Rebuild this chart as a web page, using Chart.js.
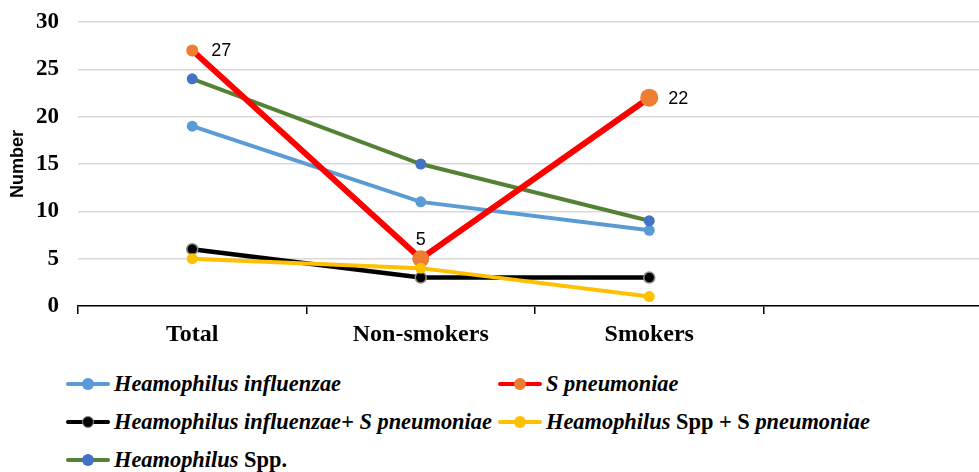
<!DOCTYPE html>
<html>
<head>
<meta charset="utf-8">
<script src="https://cdn.jsdelivr.net/npm/chart.js@4/dist/chart.umd.min.js"></script>
<style>
  html, body { margin: 0; padding: 0; background: #fff; overflow: hidden; }
  #wrap { position: relative; width: 1001px; height: 472px; }
  #chart { position: absolute; left: 0; top: 0; }
  .legend-item { position: absolute; display: flex; align-items: center; white-space: nowrap;
    font-family: "Liberation Serif", "Times New Roman", serif; font-weight: bold; font-size: 22.4px; color: #000; }
  .legend-item .sym { position: relative; width: 44px; height: 12px; margin-right: 4px; }
  .legend-item .sym .ln { position: absolute; left: 0; right: 0; top: 4px; height: 4px; border-radius: 2px; }
  .legend-item .sym .pt { position: absolute; left: 16px; top: 0; width: 12px; height: 12px; border-radius: 50%; box-sizing: border-box; }
  .legend-item i { font-style: italic; }
</style>
</head>
<body>
<div id="wrap">
  <canvas id="chart" width="1001" height="352"></canvas>
  <div id="legend"></div>
</div>
<script>
// categories (last slot is empty in the original)
const categories = ['Total', 'Non-smokers', 'Smokers', ''];

// series values
const hInfluenzae = [19, 11, 8];
const sPneumoniae = [27, 5, 22];
const hInfluenzaeSp = [6, 3, 3];
const hSppSp = [5, 4, 1];
const hSpp = [24, 15, 9];

// y axis ticks
const yMin = 0;
const yMax = 30;
const yStep = 5;

// legend label pieces: [text, italic]
const lblHInfluenzae = [['Heamophilus influenzae', true]];
const lblSPneumoniae = [['S pneumoniae', true]];
const lblHInfluenzaeSp = [['Heamophilus influenzae+ S pneumoniae', true]];
const lblHSppSp = [['Heamophilus', true], [' Spp + S ', false], ['pneumoniae', true]];
const lblHSpp = [['Heamophilus', true], [' Spp.', false]];

const serif = '"Liberation Serif", "Times New Roman", serif';

function series(parts, data, line, point, width, radius, extra) {
  return Object.assign({
    label: parts.map(p => p[0]).join(''),
    parts: parts,
    data: data,
    borderColor: line,
    backgroundColor: point,
    pointBackgroundColor: point,
    pointBorderColor: point,
    pointBorderWidth: 0,
    borderWidth: width,
    pointRadius: radius,
    pointHoverRadius: radius,
    tension: 0,
    fill: false
  }, extra || {});
}

// first dataset is drawn on top
const datasets = [
  series(lblHSppSp, hSppSp, '#FFC000', '#FFC000', 4, 5.5),
  series(lblHInfluenzaeSp, hInfluenzaeSp, '#000000', '#000000', 4.5, 5.5,
    { pointBorderColor: '#8c8c8c', pointBorderWidth: 1.5 }),
  series(lblSPneumoniae, sPneumoniae, '#FF0000', '#ED7D31', 6, [6, 8.5, 9]),
  series(lblHSpp, hSpp, '#548235', '#4472C4', 4, 5.5),
  series(lblHInfluenzae, hInfluenzae, '#5B9BD5', '#5B9BD5', 4, 5.5)
];

// value labels on the S pneumoniae series
const valueLabels = {
  id: 'valueLabels',
  afterDatasetsDraw(chart) {
    const idx = chart.data.datasets.findIndex(d => d.data === sPneumoniae);
    const meta = chart.getDatasetMeta(idx);
    const ctx = chart.ctx;
    ctx.save();
    ctx.font = '18px "Liberation Sans", Arial, sans-serif';
    ctx.fillStyle = '#000';
    meta.data.forEach((pt, i) => {
      const v = sPneumoniae[i];
      ctx.textBaseline = 'middle';
      if (i === 1) {
        ctx.textAlign = 'center';
        ctx.fillText(v, pt.x, pt.y - 19);
      } else {
        ctx.textAlign = 'left';
        ctx.fillText(v, pt.x + 19, pt.y + 1);
      }
    });
    ctx.restore();
  }
};

const chart = new Chart(document.getElementById('chart'), {
  type: 'line',
  data: { labels: categories, datasets: datasets },
  options: {
    responsive: false,
    animation: false,
    events: [],
    layout: { padding: { top: 22, left: 0, right: 0, bottom: 0 } },
    plugins: { legend: { display: false }, tooltip: { enabled: false } },
    scales: {
      x: {
        offset: true,
        grid: { offset: true, drawOnChartArea: false, drawTicks: true, tickLength: 8, color: '#000', lineWidth: 1.5 },
        border: { display: true, color: '#000', width: 1.5 },
        ticks: { color: '#000', padding: 6, font: { family: serif, size: 24, weight: 'bold' }, maxRotation: 0 },
        afterFit(scale) { scale.height = 46; }
      },
      y: {
        min: yMin,
        max: yMax,
        ticks: { stepSize: yStep, color: '#000', padding: 19, font: { family: serif, size: 23, weight: 'bold' } },
        grid: { color: '#d9d9d9', lineWidth: 1.5, drawTicks: false },
        border: { display: false },
        title: {
          display: true,
          text: 'Number',
          color: '#000',
          padding: { top: 7, bottom: 0 },
          font: { family: '"Liberation Sans", Arial, sans-serif', size: 18, weight: 'bold' }
        },
        afterFit(scale) {
          scale.width = 78;
          scale.paddingTop = 0;
          scale.paddingBottom = 0;
        }
      }
    }
  },
  plugins: [valueLabels]
});

// HTML legend (mixed italic / upright text)
const legendOrder = [hInfluenzae, sPneumoniae, hInfluenzaeSp, hSppSp, hSpp];
const legendSlots = [[66, 384], [498, 384], [66, 422], [498, 422], [66, 460]];
const legendEl = document.getElementById('legend');
legendOrder.forEach((data, k) => {
  const ds = datasets.find(d => d.data === data);
  const item = document.createElement('div');
  item.className = 'legend-item';
  item.style.left = legendSlots[k][0] + 'px';
  item.style.top = (legendSlots[k][1] - 13) + 'px';
  item.style.height = '26px';
  const sym = document.createElement('span');
  sym.className = 'sym';
  const ln = document.createElement('span');
  ln.className = 'ln';
  ln.style.background = ds.borderColor;
  const pt = document.createElement('span');
  pt.className = 'pt';
  pt.style.background = ds.pointBackgroundColor;
  if (ds.pointBorderWidth) pt.style.border = ds.pointBorderWidth + 'px solid ' + ds.pointBorderColor;
  sym.appendChild(ln);
  sym.appendChild(pt);
  item.appendChild(sym);
  const txt = document.createElement('span');
  ds.parts.forEach(p => {
    const s = document.createElement(p[1] ? 'i' : 'span');
    s.textContent = p[0];
    txt.appendChild(s);
  });
  item.appendChild(txt);
  legendEl.appendChild(item);
});
</script>
</body>
</html>
